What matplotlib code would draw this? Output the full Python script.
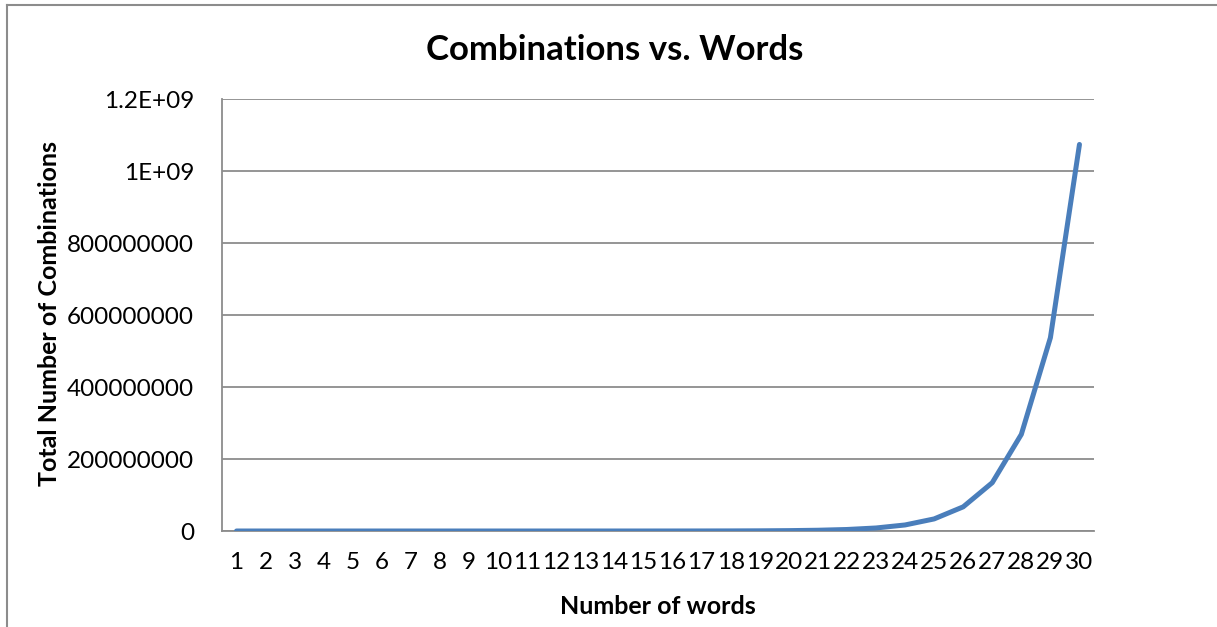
import matplotlib
matplotlib.use("Agg")
import matplotlib.pyplot as plt
from matplotlib.lines import Line2D

words = list(range(1, 31))
combinations = [1, 3, 7, 15, 31, 63, 127, 255, 511, 1023,
                2047, 4095, 8191, 16383, 32767, 65535, 131071, 262143, 524287, 1048575,
                2097151, 4194303, 8388607, 16777215, 33554431, 67108863, 134217727,
                268435455, 536870911, 1073741823]
ytick_vals = [0, 200000000, 400000000, 600000000, 800000000, 1000000000, 1200000000]
ytick_labels = ["0", "200000000", "400000000", "600000000", "800000000", "1E+09", "1.2E+09"]

plt.rcParams['font.family'] = ['Lato', 'DejaVu Sans']

W, H = 1217, 627
fig = plt.figure(figsize=(W / 100, H / 100), dpi=100)
ax = fig.add_axes([222 / W, 1 - 531 / H, (1094 - 222) / W, (531 - 99) / H])

# chart area border (top and left edges only are visible)
bx, by = 7 / W, 1 - 5 / H
fig.lines.append(Line2D([bx, 1.0], [by, by], transform=fig.transFigure, color='#8c8c8c', lw=1.5))
fig.lines.append(Line2D([bx, bx], [0.0, by], transform=fig.transFigure, color='#8c8c8c', lw=1.5))

ax.plot(words, combinations, color='#4a7ebb', lw=3.6, solid_capstyle='round', zorder=3)

ax.set_xlim(0.5, 30.5)
ax.set_ylim(0, 1.2e9)
ax.set_xticks(words)
ax.set_xticklabels([str(w) for w in words])
ax.set_yticks(ytick_vals)
ax.set_yticklabels(ytick_labels)
ax.tick_params(axis='both', length=0, labelsize=17.5, colors='black')
ax.tick_params(axis='x', pad=15)
ax.tick_params(axis='y', pad=20)

ax.grid(axis='y', color='#8c8c8c', lw=1.3)
ax.set_axisbelow(True)
for s in ['top', 'right']:
    ax.spines[s].set_visible(False)
for s in ['left', 'bottom']:
    ax.spines[s].set_color('#8c8c8c')
    ax.spines[s].set_linewidth(1.3)

fig.text(615 / W, 1 - 50 / H, "Combinations vs. Words", ha='center', va='center',
         fontsize=25, fontweight='bold')
fig.text(658 / W, 1 - 606 / H, "Number of words", ha='center', va='center',
         fontsize=18, fontweight='bold')
fig.text(50 / W, 1 - 314 / H, "Total Number of Combinations", ha='center', va='center',
         rotation=90, fontsize=18, fontweight='bold')

fig.savefig("out.png", dpi=100)
